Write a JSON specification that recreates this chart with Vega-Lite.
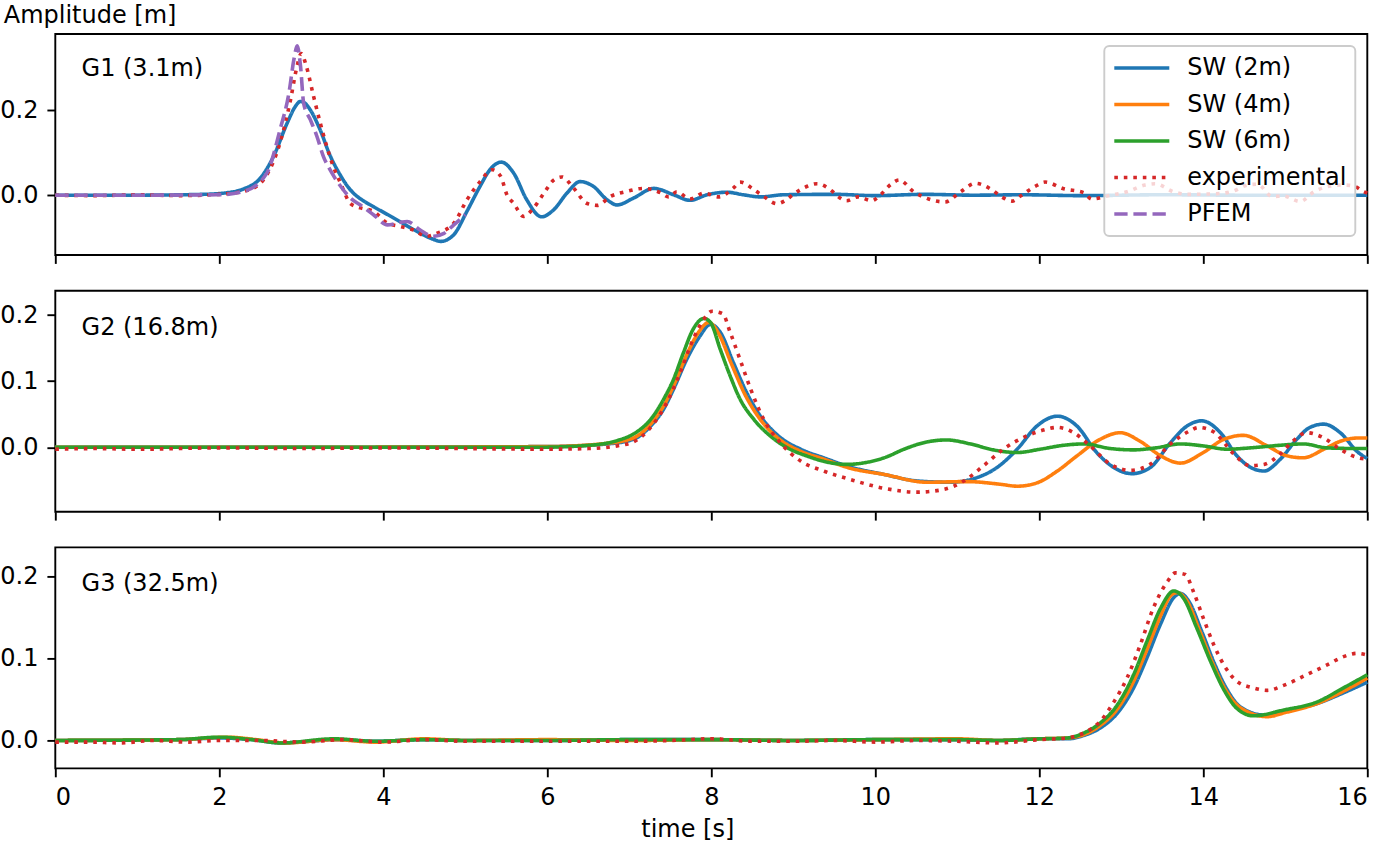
{
"$schema": "https://vega.github.io/schema/vega-lite/v6.json",
"padding": {"left": -1.7, "top": 2, "right": 5, "bottom": 0},
"background": "white",
"data": {"values": [
{"g":"G1","series":"SW (2m)","t":0,"v":0},{"g":"G1","series":"SW (2m)","t":1,"v":0},{"g":"G1","series":"SW (2m)","t":1.8,"v":0.002},{"g":"G1","series":"SW (2m)","t":2.1,"v":0.006},{"g":"G1","series":"SW (2m)","t":2.3,"v":0.015},{"g":"G1","series":"SW (2m)","t":2.5,"v":0.04},{"g":"G1","series":"SW (2m)","t":2.66,"v":0.091},{"g":"G1","series":"SW (2m)","t":2.83,"v":0.171},{"g":"G1","series":"SW (2m)","t":2.92,"v":0.207},{"g":"G1","series":"SW (2m)","t":2.99,"v":0.221},{"g":"G1","series":"SW (2m)","t":3.05,"v":0.216},{"g":"G1","series":"SW (2m)","t":3.11,"v":0.201},{"g":"G1","series":"SW (2m)","t":3.23,"v":0.154},{"g":"G1","series":"SW (2m)","t":3.35,"v":0.094},{"g":"G1","series":"SW (2m)","t":3.48,"v":0.046},{"g":"G1","series":"SW (2m)","t":3.56,"v":0.022},{"g":"G1","series":"SW (2m)","t":3.64,"v":0.004},{"g":"G1","series":"SW (2m)","t":3.74,"v":-0.011},{"g":"G1","series":"SW (2m)","t":3.88,"v":-0.027},{"g":"G1","series":"SW (2m)","t":4.12,"v":-0.053},{"g":"G1","series":"SW (2m)","t":4.37,"v":-0.081},{"g":"G1","series":"SW (2m)","t":4.61,"v":-0.104},{"g":"G1","series":"SW (2m)","t":4.7,"v":-0.109},{"g":"G1","series":"SW (2m)","t":4.86,"v":-0.093},{"g":"G1","series":"SW (2m)","t":5.02,"v":-0.038},{"g":"G1","series":"SW (2m)","t":5.18,"v":0.021},{"g":"G1","series":"SW (2m)","t":5.3,"v":0.06},{"g":"G1","series":"SW (2m)","t":5.44,"v":0.078},{"g":"G1","series":"SW (2m)","t":5.59,"v":0.052},{"g":"G1","series":"SW (2m)","t":5.75,"v":-0.011},{"g":"G1","series":"SW (2m)","t":5.93,"v":-0.051},{"g":"G1","series":"SW (2m)","t":6.08,"v":-0.034},{"g":"G1","series":"SW (2m)","t":6.24,"v":0.005},{"g":"G1","series":"SW (2m)","t":6.4,"v":0.032},{"g":"G1","series":"SW (2m)","t":6.56,"v":0.021},{"g":"G1","series":"SW (2m)","t":6.73,"v":-0.011},{"g":"G1","series":"SW (2m)","t":6.85,"v":-0.023},{"g":"G1","series":"SW (2m)","t":7.05,"v":-0.007},{"g":"G1","series":"SW (2m)","t":7.3,"v":0.016},{"g":"G1","series":"SW (2m)","t":7.54,"v":0.001},{"g":"G1","series":"SW (2m)","t":7.74,"v":-0.012},{"g":"G1","series":"SW (2m)","t":7.95,"v":0.001},{"g":"G1","series":"SW (2m)","t":8.19,"v":0.007},{"g":"G1","series":"SW (2m)","t":8.39,"v":0.001},{"g":"G1","series":"SW (2m)","t":8.6,"v":-0.004},{"g":"G1","series":"SW (2m)","t":8.88,"v":0.001},{"g":"G1","series":"SW (2m)","t":9.5,"v":0.002},{"g":"G1","series":"SW (2m)","t":10,"v":-0.001},{"g":"G1","series":"SW (2m)","t":10.6,"v":0.002},{"g":"G1","series":"SW (2m)","t":11.2,"v":0},{"g":"G1","series":"SW (2m)","t":11.8,"v":0.001},{"g":"G1","series":"SW (2m)","t":12.5,"v":-0.001},{"g":"G1","series":"SW (2m)","t":13.5,"v":0.001},{"g":"G1","series":"SW (2m)","t":14.5,"v":0},{"g":"G1","series":"SW (2m)","t":16,"v":0},
{"g":"G1","series":"experimental","t":0,"v":0},{"g":"G1","series":"experimental","t":0.5,"v":-0.001},{"g":"G1","series":"experimental","t":1,"v":0.001},{"g":"G1","series":"experimental","t":1.5,"v":-0.001},{"g":"G1","series":"experimental","t":2,"v":0.002},{"g":"G1","series":"experimental","t":2.17,"v":0.005},{"g":"G1","series":"experimental","t":2.42,"v":0.017},{"g":"G1","series":"experimental","t":2.58,"v":0.048},{"g":"G1","series":"experimental","t":2.74,"v":0.123},{"g":"G1","series":"experimental","t":2.87,"v":0.226},{"g":"G1","series":"experimental","t":2.94,"v":0.297},{"g":"G1","series":"experimental","t":3,"v":0.334},{"g":"G1","series":"experimental","t":3.06,"v":0.305},{"g":"G1","series":"experimental","t":3.15,"v":0.233},{"g":"G1","series":"experimental","t":3.23,"v":0.171},{"g":"G1","series":"experimental","t":3.31,"v":0.115},{"g":"G1","series":"experimental","t":3.39,"v":0.068},{"g":"G1","series":"experimental","t":3.48,"v":0.028},{"g":"G1","series":"experimental","t":3.6,"v":-0.02},{"g":"G1","series":"experimental","t":3.72,"v":-0.03},{"g":"G1","series":"experimental","t":3.88,"v":-0.038},{"g":"G1","series":"experimental","t":4.05,"v":-0.066},{"g":"G1","series":"experimental","t":4.21,"v":-0.074},{"g":"G1","series":"experimental","t":4.37,"v":-0.082},{"g":"G1","series":"experimental","t":4.53,"v":-0.097},{"g":"G1","series":"experimental","t":4.65,"v":-0.09},{"g":"G1","series":"experimental","t":4.86,"v":-0.066},{"g":"G1","series":"experimental","t":5.02,"v":-0.011},{"g":"G1","series":"experimental","t":5.18,"v":0.032},{"g":"G1","series":"experimental","t":5.33,"v":0.06},{"g":"G1","series":"experimental","t":5.43,"v":0.045},{"g":"G1","series":"experimental","t":5.51,"v":0},{"g":"G1","series":"experimental","t":5.59,"v":-0.019},{"g":"G1","series":"experimental","t":5.71,"v":-0.05},{"g":"G1","series":"experimental","t":5.83,"v":-0.031},{"g":"G1","series":"experimental","t":5.96,"v":0.005},{"g":"G1","series":"experimental","t":6.08,"v":0.036},{"g":"G1","series":"experimental","t":6.18,"v":0.043},{"g":"G1","series":"experimental","t":6.32,"v":0.017},{"g":"G1","series":"experimental","t":6.48,"v":-0.019},{"g":"G1","series":"experimental","t":6.61,"v":-0.024},{"g":"G1","series":"experimental","t":6.77,"v":-0.003},{"g":"G1","series":"experimental","t":6.97,"v":0.009},{"g":"G1","series":"experimental","t":7.17,"v":0.016},{"g":"G1","series":"experimental","t":7.38,"v":0.006},{"g":"G1","series":"experimental","t":7.48,"v":-0.004},{"g":"G1","series":"experimental","t":7.58,"v":0.008},{"g":"G1","series":"experimental","t":7.74,"v":-0.009},{"g":"G1","series":"experimental","t":7.91,"v":0.005},{"g":"G1","series":"experimental","t":8.09,"v":-0.004},{"g":"G1","series":"experimental","t":8.27,"v":0.017},{"g":"G1","series":"experimental","t":8.35,"v":0.031},{"g":"G1","series":"experimental","t":8.54,"v":0.01},{"g":"G1","series":"experimental","t":8.64,"v":-0.003},{"g":"G1","series":"experimental","t":8.8,"v":-0.02},{"g":"G1","series":"experimental","t":8.9,"v":-0.013},{"g":"G1","series":"experimental","t":9,"v":0.002},{"g":"G1","series":"experimental","t":9.17,"v":0.021},{"g":"G1","series":"experimental","t":9.29,"v":0.027},{"g":"G1","series":"experimental","t":9.47,"v":0.01},{"g":"G1","series":"experimental","t":9.55,"v":-0.004},{"g":"G1","series":"experimental","t":9.65,"v":-0.013},{"g":"G1","series":"experimental","t":9.79,"v":-0.004},{"g":"G1","series":"experimental","t":9.96,"v":-0.013},{"g":"G1","series":"experimental","t":10.04,"v":-0.003},{"g":"G1","series":"experimental","t":10.2,"v":0.027},{"g":"G1","series":"experimental","t":10.29,"v":0.036},{"g":"G1","series":"experimental","t":10.47,"v":0.008},{"g":"G1","series":"experimental","t":10.65,"v":-0.009},{"g":"G1","series":"experimental","t":10.85,"v":-0.016},{"g":"G1","series":"experimental","t":11.04,"v":0.008},{"g":"G1","series":"experimental","t":11.22,"v":0.028},{"g":"G1","series":"experimental","t":11.42,"v":0.013},{"g":"G1","series":"experimental","t":11.55,"v":-0.005},{"g":"G1","series":"experimental","t":11.67,"v":-0.014},{"g":"G1","series":"experimental","t":11.77,"v":-0.002},{"g":"G1","series":"experimental","t":11.95,"v":0.021},{"g":"G1","series":"experimental","t":12.07,"v":0.031},{"g":"G1","series":"experimental","t":12.3,"v":0.015},{"g":"G1","series":"experimental","t":12.54,"v":0.006},{"g":"G1","series":"experimental","t":12.64,"v":-0.009},{"g":"G1","series":"experimental","t":12.87,"v":0},{"g":"G1","series":"experimental","t":13.07,"v":0.008},{"g":"G1","series":"experimental","t":13.29,"v":0.024},{"g":"G1","series":"experimental","t":13.41,"v":0.027},{"g":"G1","series":"experimental","t":13.64,"v":0.008},{"g":"G1","series":"experimental","t":13.8,"v":0.002},{"g":"G1","series":"experimental","t":14.09,"v":0.003},{"g":"G1","series":"experimental","t":14.21,"v":0.004},{"g":"G1","series":"experimental","t":14.37,"v":0.01},{"g":"G1","series":"experimental","t":14.54,"v":0.024},{"g":"G1","series":"experimental","t":14.66,"v":0.026},{"g":"G1","series":"experimental","t":14.84,"v":-0.003},{"g":"G1","series":"experimental","t":14.98,"v":-0.002},{"g":"G1","series":"experimental","t":15.18,"v":-0.015},{"g":"G1","series":"experimental","t":15.35,"v":0.008},{"g":"G1","series":"experimental","t":15.51,"v":0.02},{"g":"G1","series":"experimental","t":15.71,"v":0.024},{"g":"G1","series":"experimental","t":15.83,"v":0.022},{"g":"G1","series":"experimental","t":15.96,"v":0.008},{"g":"G1","series":"experimental","t":16,"v":0.005},
{"g":"G1","series":"PFEM","t":0,"v":0},{"g":"G1","series":"PFEM","t":1,"v":0},{"g":"G1","series":"PFEM","t":2,"v":0.001},{"g":"G1","series":"PFEM","t":2.3,"v":0.009},{"g":"G1","series":"PFEM","t":2.58,"v":0.052},{"g":"G1","series":"PFEM","t":2.74,"v":0.154},{"g":"G1","series":"PFEM","t":2.85,"v":0.242},{"g":"G1","series":"PFEM","t":2.91,"v":0.32},{"g":"G1","series":"PFEM","t":2.95,"v":0.352},{"g":"G1","series":"PFEM","t":2.99,"v":0.305},{"g":"G1","series":"PFEM","t":3.03,"v":0.215},{"g":"G1","series":"PFEM","t":3.11,"v":0.178},{"g":"G1","series":"PFEM","t":3.19,"v":0.139},{"g":"G1","series":"PFEM","t":3.27,"v":0.091},{"g":"G1","series":"PFEM","t":3.35,"v":0.06},{"g":"G1","series":"PFEM","t":3.48,"v":0.021},{"g":"G1","series":"PFEM","t":3.6,"v":-0.007},{"g":"G1","series":"PFEM","t":3.72,"v":-0.023},{"g":"G1","series":"PFEM","t":3.88,"v":-0.046},{"g":"G1","series":"PFEM","t":4.05,"v":-0.07},{"g":"G1","series":"PFEM","t":4.21,"v":-0.064},{"g":"G1","series":"PFEM","t":4.29,"v":-0.062},{"g":"G1","series":"PFEM","t":4.45,"v":-0.082},{"g":"G1","series":"PFEM","t":4.61,"v":-0.097},{"g":"G1","series":"PFEM","t":4.74,"v":-0.09},{"g":"G1","series":"PFEM","t":4.86,"v":-0.07},{"g":"G1","series":"PFEM","t":5,"v":-0.046},
{"g":"G2","series":"SW (2m)","t":0,"v":0},{"g":"G2","series":"SW (2m)","t":3,"v":0},{"g":"G2","series":"SW (2m)","t":6,"v":0.001},{"g":"G2","series":"SW (2m)","t":6.73,"v":0.005},{"g":"G2","series":"SW (2m)","t":7.05,"v":0.012},{"g":"G2","series":"SW (2m)","t":7.26,"v":0.032},{"g":"G2","series":"SW (2m)","t":7.42,"v":0.058},{"g":"G2","series":"SW (2m)","t":7.54,"v":0.088},{"g":"G2","series":"SW (2m)","t":7.7,"v":0.133},{"g":"G2","series":"SW (2m)","t":7.85,"v":0.166},{"g":"G2","series":"SW (2m)","t":7.99,"v":0.186},{"g":"G2","series":"SW (2m)","t":8.11,"v":0.174},{"g":"G2","series":"SW (2m)","t":8.27,"v":0.128},{"g":"G2","series":"SW (2m)","t":8.43,"v":0.083},{"g":"G2","series":"SW (2m)","t":8.6,"v":0.047},{"g":"G2","series":"SW (2m)","t":8.84,"v":0.015},{"g":"G2","series":"SW (2m)","t":9.09,"v":-0.003},{"g":"G2","series":"SW (2m)","t":9.37,"v":-0.016},{"g":"G2","series":"SW (2m)","t":9.7,"v":-0.03},{"g":"G2","series":"SW (2m)","t":10.1,"v":-0.041},{"g":"G2","series":"SW (2m)","t":10.51,"v":-0.051},{"g":"G2","series":"SW (2m)","t":10.91,"v":-0.053},{"g":"G2","series":"SW (2m)","t":11.24,"v":-0.046},{"g":"G2","series":"SW (2m)","t":11.48,"v":-0.031},{"g":"G2","series":"SW (2m)","t":11.73,"v":-0.003},{"g":"G2","series":"SW (2m)","t":11.97,"v":0.032},{"g":"G2","series":"SW (2m)","t":12.22,"v":0.047},{"g":"G2","series":"SW (2m)","t":12.46,"v":0.032},{"g":"G2","series":"SW (2m)","t":12.7,"v":-0.008},{"g":"G2","series":"SW (2m)","t":12.94,"v":-0.033},{"g":"G2","series":"SW (2m)","t":13.13,"v":-0.04},{"g":"G2","series":"SW (2m)","t":13.35,"v":-0.031},{"g":"G2","series":"SW (2m)","t":13.6,"v":0.007},{"g":"G2","series":"SW (2m)","t":13.8,"v":0.032},{"g":"G2","series":"SW (2m)","t":13.98,"v":0.04},{"g":"G2","series":"SW (2m)","t":14.21,"v":0.022},{"g":"G2","series":"SW (2m)","t":14.41,"v":-0.013},{"g":"G2","series":"SW (2m)","t":14.57,"v":-0.03},{"g":"G2","series":"SW (2m)","t":14.74,"v":-0.036},{"g":"G2","series":"SW (2m)","t":14.94,"v":-0.018},{"g":"G2","series":"SW (2m)","t":15.14,"v":0.012},{"g":"G2","series":"SW (2m)","t":15.3,"v":0.03},{"g":"G2","series":"SW (2m)","t":15.47,"v":0.035},{"g":"G2","series":"SW (2m)","t":15.67,"v":0.022},{"g":"G2","series":"SW (2m)","t":15.89,"v":-0.008},{"g":"G2","series":"SW (2m)","t":16,"v":-0.017},
{"g":"G2","series":"SW (4m)","t":0,"v":0},{"g":"G2","series":"SW (4m)","t":3,"v":0},{"g":"G2","series":"SW (4m)","t":6,"v":0.001},{"g":"G2","series":"SW (4m)","t":6.73,"v":0.006},{"g":"G2","series":"SW (4m)","t":7.05,"v":0.014},{"g":"G2","series":"SW (4m)","t":7.26,"v":0.035},{"g":"G2","series":"SW (4m)","t":7.42,"v":0.063},{"g":"G2","series":"SW (4m)","t":7.54,"v":0.093},{"g":"G2","series":"SW (4m)","t":7.7,"v":0.14},{"g":"G2","series":"SW (4m)","t":7.85,"v":0.175},{"g":"G2","series":"SW (4m)","t":7.97,"v":0.189},{"g":"G2","series":"SW (4m)","t":8.09,"v":0.172},{"g":"G2","series":"SW (4m)","t":8.25,"v":0.125},{"g":"G2","series":"SW (4m)","t":8.41,"v":0.08},{"g":"G2","series":"SW (4m)","t":8.58,"v":0.045},{"g":"G2","series":"SW (4m)","t":8.82,"v":0.013},{"g":"G2","series":"SW (4m)","t":9.07,"v":-0.005},{"g":"G2","series":"SW (4m)","t":9.37,"v":-0.018},{"g":"G2","series":"SW (4m)","t":9.7,"v":-0.032},{"g":"G2","series":"SW (4m)","t":10.1,"v":-0.041},{"g":"G2","series":"SW (4m)","t":10.63,"v":-0.053},{"g":"G2","series":"SW (4m)","t":11.12,"v":-0.052},{"g":"G2","series":"SW (4m)","t":11.52,"v":-0.056},{"g":"G2","series":"SW (4m)","t":11.73,"v":-0.059},{"g":"G2","series":"SW (4m)","t":11.97,"v":-0.054},{"g":"G2","series":"SW (4m)","t":12.22,"v":-0.036},{"g":"G2","series":"SW (4m)","t":12.46,"v":-0.013},{"g":"G2","series":"SW (4m)","t":12.7,"v":0.009},{"g":"G2","series":"SW (4m)","t":12.99,"v":0.022},{"g":"G2","series":"SW (4m)","t":13.23,"v":0.009},{"g":"G2","series":"SW (4m)","t":13.48,"v":-0.013},{"g":"G2","series":"SW (4m)","t":13.72,"v":-0.024},{"g":"G2","series":"SW (4m)","t":14,"v":-0.008},{"g":"G2","series":"SW (4m)","t":14.25,"v":0.012},{"g":"G2","series":"SW (4m)","t":14.49,"v":0.018},{"g":"G2","series":"SW (4m)","t":14.78,"v":0.002},{"g":"G2","series":"SW (4m)","t":15.02,"v":-0.013},{"g":"G2","series":"SW (4m)","t":15.22,"v":-0.016},{"g":"G2","series":"SW (4m)","t":15.47,"v":-0.003},{"g":"G2","series":"SW (4m)","t":15.67,"v":0.009},{"g":"G2","series":"SW (4m)","t":15.89,"v":0.014},{"g":"G2","series":"SW (4m)","t":16,"v":0.014},
{"g":"G2","series":"SW (6m)","t":0,"v":0},{"g":"G2","series":"SW (6m)","t":3,"v":0},{"g":"G2","series":"SW (6m)","t":5.9,"v":0},{"g":"G2","series":"SW (6m)","t":6.52,"v":0.003},{"g":"G2","series":"SW (6m)","t":6.85,"v":0.01},{"g":"G2","series":"SW (6m)","t":7.05,"v":0.02},{"g":"G2","series":"SW (6m)","t":7.26,"v":0.042},{"g":"G2","series":"SW (6m)","t":7.42,"v":0.073},{"g":"G2","series":"SW (6m)","t":7.54,"v":0.103},{"g":"G2","series":"SW (6m)","t":7.66,"v":0.143},{"g":"G2","series":"SW (6m)","t":7.78,"v":0.179},{"g":"G2","series":"SW (6m)","t":7.91,"v":0.195},{"g":"G2","series":"SW (6m)","t":7.99,"v":0.189},{"g":"G2","series":"SW (6m)","t":8.11,"v":0.148},{"g":"G2","series":"SW (6m)","t":8.23,"v":0.108},{"g":"G2","series":"SW (6m)","t":8.35,"v":0.073},{"g":"G2","series":"SW (6m)","t":8.52,"v":0.042},{"g":"G2","series":"SW (6m)","t":8.72,"v":0.017},{"g":"G2","series":"SW (6m)","t":8.96,"v":-0.003},{"g":"G2","series":"SW (6m)","t":9.16,"v":-0.013},{"g":"G2","series":"SW (6m)","t":9.36,"v":-0.021},{"g":"G2","series":"SW (6m)","t":9.65,"v":-0.026},{"g":"G2","series":"SW (6m)","t":9.89,"v":-0.023},{"g":"G2","series":"SW (6m)","t":10.13,"v":-0.015},{"g":"G2","series":"SW (6m)","t":10.35,"v":-0.003},{"g":"G2","series":"SW (6m)","t":10.63,"v":0.008},{"g":"G2","series":"SW (6m)","t":10.87,"v":0.011},{"g":"G2","series":"SW (6m)","t":11.16,"v":0.005},{"g":"G2","series":"SW (6m)","t":11.44,"v":-0.004},{"g":"G2","series":"SW (6m)","t":11.73,"v":-0.008},{"g":"G2","series":"SW (6m)","t":12.01,"v":-0.003},{"g":"G2","series":"SW (6m)","t":12.3,"v":0.003},{"g":"G2","series":"SW (6m)","t":12.54,"v":0.005},{"g":"G2","series":"SW (6m)","t":12.87,"v":-0.002},{"g":"G2","series":"SW (6m)","t":13.15,"v":-0.004},{"g":"G2","series":"SW (6m)","t":13.42,"v":-0.001},{"g":"G2","series":"SW (6m)","t":13.72,"v":0.005},{"g":"G2","series":"SW (6m)","t":14,"v":0.002},{"g":"G2","series":"SW (6m)","t":14.29,"v":-0.003},{"g":"G2","series":"SW (6m)","t":14.57,"v":-0.001},{"g":"G2","series":"SW (6m)","t":14.94,"v":0.003},{"g":"G2","series":"SW (6m)","t":15.22,"v":0.005},{"g":"G2","series":"SW (6m)","t":15.51,"v":-0.001},{"g":"G2","series":"SW (6m)","t":15.89,"v":-0.002},{"g":"G2","series":"SW (6m)","t":16,"v":-0.002},
{"g":"G2","series":"experimental","t":0,"v":-0.003},{"g":"G2","series":"experimental","t":0.5,"v":-0.002},{"g":"G2","series":"experimental","t":1,"v":-0.003},{"g":"G2","series":"experimental","t":2,"v":-0.001},{"g":"G2","series":"experimental","t":3,"v":-0.002},{"g":"G2","series":"experimental","t":4,"v":-0.001},{"g":"G2","series":"experimental","t":5,"v":-0.002},{"g":"G2","series":"experimental","t":6,"v":-0.003},{"g":"G2","series":"experimental","t":6.5,"v":-0.002},{"g":"G2","series":"experimental","t":6.85,"v":0.002},{"g":"G2","series":"experimental","t":7.05,"v":0.008},{"g":"G2","series":"experimental","t":7.26,"v":0.03},{"g":"G2","series":"experimental","t":7.46,"v":0.068},{"g":"G2","series":"experimental","t":7.62,"v":0.113},{"g":"G2","series":"experimental","t":7.78,"v":0.164},{"g":"G2","series":"experimental","t":7.91,"v":0.194},{"g":"G2","series":"experimental","t":8.01,"v":0.206},{"g":"G2","series":"experimental","t":8.14,"v":0.202},{"g":"G2","series":"experimental","t":8.23,"v":0.174},{"g":"G2","series":"experimental","t":8.35,"v":0.133},{"g":"G2","series":"experimental","t":8.48,"v":0.088},{"g":"G2","series":"experimental","t":8.64,"v":0.042},{"g":"G2","series":"experimental","t":8.84,"v":0.007},{"g":"G2","series":"experimental","t":9.09,"v":-0.021},{"g":"G2","series":"experimental","t":9.37,"v":-0.036},{"g":"G2","series":"experimental","t":9.7,"v":-0.049},{"g":"G2","series":"experimental","t":10.1,"v":-0.062},{"g":"G2","series":"experimental","t":10.51,"v":-0.068},{"g":"G2","series":"experimental","t":10.83,"v":-0.064},{"g":"G2","series":"experimental","t":11.08,"v":-0.051},{"g":"G2","series":"experimental","t":11.32,"v":-0.028},{"g":"G2","series":"experimental","t":11.56,"v":-0.003},{"g":"G2","series":"experimental","t":11.81,"v":0.015},{"g":"G2","series":"experimental","t":12.05,"v":0.026},{"g":"G2","series":"experimental","t":12.22,"v":0.03},{"g":"G2","series":"experimental","t":12.42,"v":0.022},{"g":"G2","series":"experimental","t":12.62,"v":0.002},{"g":"G2","series":"experimental","t":12.87,"v":-0.026},{"g":"G2","series":"experimental","t":13.11,"v":-0.035},{"g":"G2","series":"experimental","t":13.35,"v":-0.026},{"g":"G2","series":"experimental","t":13.6,"v":0.005},{"g":"G2","series":"experimental","t":13.84,"v":0.025},{"g":"G2","series":"experimental","t":13.94,"v":0.03},{"g":"G2","series":"experimental","t":14.13,"v":0.023},{"g":"G2","series":"experimental","t":14.37,"v":-0.01},{"g":"G2","series":"experimental","t":14.57,"v":-0.028},{"g":"G2","series":"experimental","t":14.74,"v":-0.026},{"g":"G2","series":"experimental","t":14.94,"v":-0.01},{"g":"G2","series":"experimental","t":15.1,"v":0.01},{"g":"G2","series":"experimental","t":15.26,"v":0.022},{"g":"G2","series":"experimental","t":15.47,"v":0.014},{"g":"G2","series":"experimental","t":15.67,"v":-0.003},{"g":"G2","series":"experimental","t":15.89,"v":-0.016},{"g":"G2","series":"experimental","t":16,"v":-0.018},
{"g":"G3","series":"SW (2m)","t":0,"v":0},{"g":"G3","series":"SW (2m)","t":1.5,"v":0.001},{"g":"G3","series":"SW (2m)","t":2,"v":0.003},{"g":"G3","series":"SW (2m)","t":2.4,"v":0.001},{"g":"G3","series":"SW (2m)","t":2.75,"v":-0.003},{"g":"G3","series":"SW (2m)","t":3.1,"v":-0.001},{"g":"G3","series":"SW (2m)","t":3.4,"v":0.001},{"g":"G3","series":"SW (2m)","t":3.9,"v":-0.001},{"g":"G3","series":"SW (2m)","t":4.5,"v":0.001},{"g":"G3","series":"SW (2m)","t":5,"v":0},{"g":"G3","series":"SW (2m)","t":6,"v":0},{"g":"G3","series":"SW (2m)","t":7,"v":0.001},{"g":"G3","series":"SW (2m)","t":8,"v":0.001},{"g":"G3","series":"SW (2m)","t":9,"v":0},{"g":"G3","series":"SW (2m)","t":10,"v":0.001},{"g":"G3","series":"SW (2m)","t":11,"v":0.001},{"g":"G3","series":"SW (2m)","t":11.5,"v":0},{"g":"G3","series":"SW (2m)","t":12,"v":0.002},{"g":"G3","series":"SW (2m)","t":12.34,"v":0.002},{"g":"G3","series":"SW (2m)","t":12.54,"v":0.006},{"g":"G3","series":"SW (2m)","t":12.74,"v":0.015},{"g":"G3","series":"SW (2m)","t":12.95,"v":0.033},{"g":"G3","series":"SW (2m)","t":13.15,"v":0.064},{"g":"G3","series":"SW (2m)","t":13.31,"v":0.1},{"g":"G3","series":"SW (2m)","t":13.48,"v":0.142},{"g":"G3","series":"SW (2m)","t":13.64,"v":0.174},{"g":"G3","series":"SW (2m)","t":13.72,"v":0.179},{"g":"G3","series":"SW (2m)","t":13.82,"v":0.17},{"g":"G3","series":"SW (2m)","t":13.98,"v":0.133},{"g":"G3","series":"SW (2m)","t":14.13,"v":0.095},{"g":"G3","series":"SW (2m)","t":14.29,"v":0.062},{"g":"G3","series":"SW (2m)","t":14.45,"v":0.041},{"g":"G3","series":"SW (2m)","t":14.74,"v":0.031},{"g":"G3","series":"SW (2m)","t":15,"v":0.036},{"g":"G3","series":"SW (2m)","t":15.39,"v":0.045},{"g":"G3","series":"SW (2m)","t":15.71,"v":0.058},{"g":"G3","series":"SW (2m)","t":16,"v":0.071},
{"g":"G3","series":"SW (4m)","t":0,"v":0},{"g":"G3","series":"SW (4m)","t":1.5,"v":0.001},{"g":"G3","series":"SW (4m)","t":2.1,"v":0.004},{"g":"G3","series":"SW (4m)","t":2.45,"v":0.001},{"g":"G3","series":"SW (4m)","t":2.8,"v":-0.003},{"g":"G3","series":"SW (4m)","t":3.4,"v":0.001},{"g":"G3","series":"SW (4m)","t":3.9,"v":-0.002},{"g":"G3","series":"SW (4m)","t":4.5,"v":0.002},{"g":"G3","series":"SW (4m)","t":5,"v":0},{"g":"G3","series":"SW (4m)","t":6,"v":0.001},{"g":"G3","series":"SW (4m)","t":7,"v":0},{"g":"G3","series":"SW (4m)","t":8,"v":0.001},{"g":"G3","series":"SW (4m)","t":9,"v":0},{"g":"G3","series":"SW (4m)","t":10,"v":0.001},{"g":"G3","series":"SW (4m)","t":11,"v":0.002},{"g":"G3","series":"SW (4m)","t":11.5,"v":0},{"g":"G3","series":"SW (4m)","t":12,"v":0.002},{"g":"G3","series":"SW (4m)","t":12.34,"v":0.003},{"g":"G3","series":"SW (4m)","t":12.54,"v":0.007},{"g":"G3","series":"SW (4m)","t":12.74,"v":0.018},{"g":"G3","series":"SW (4m)","t":12.95,"v":0.038},{"g":"G3","series":"SW (4m)","t":13.15,"v":0.072},{"g":"G3","series":"SW (4m)","t":13.31,"v":0.11},{"g":"G3","series":"SW (4m)","t":13.48,"v":0.152},{"g":"G3","series":"SW (4m)","t":13.6,"v":0.176},{"g":"G3","series":"SW (4m)","t":13.68,"v":0.18},{"g":"G3","series":"SW (4m)","t":13.8,"v":0.17},{"g":"G3","series":"SW (4m)","t":13.95,"v":0.135},{"g":"G3","series":"SW (4m)","t":14.11,"v":0.095},{"g":"G3","series":"SW (4m)","t":14.27,"v":0.062},{"g":"G3","series":"SW (4m)","t":14.45,"v":0.04},{"g":"G3","series":"SW (4m)","t":14.78,"v":0.029},{"g":"G3","series":"SW (4m)","t":15,"v":0.034},{"g":"G3","series":"SW (4m)","t":15.39,"v":0.045},{"g":"G3","series":"SW (4m)","t":15.71,"v":0.06},{"g":"G3","series":"SW (4m)","t":16,"v":0.076},
{"g":"G3","series":"SW (6m)","t":0,"v":0},{"g":"G3","series":"SW (6m)","t":1.5,"v":0.001},{"g":"G3","series":"SW (6m)","t":2,"v":0.004},{"g":"G3","series":"SW (6m)","t":2.4,"v":0.001},{"g":"G3","series":"SW (6m)","t":2.75,"v":-0.003},{"g":"G3","series":"SW (6m)","t":3.4,"v":0.002},{"g":"G3","series":"SW (6m)","t":3.9,"v":-0.001},{"g":"G3","series":"SW (6m)","t":4.5,"v":0.001},{"g":"G3","series":"SW (6m)","t":5,"v":0},{"g":"G3","series":"SW (6m)","t":6,"v":0},{"g":"G3","series":"SW (6m)","t":7,"v":0.001},{"g":"G3","series":"SW (6m)","t":8,"v":0.001},{"g":"G3","series":"SW (6m)","t":9,"v":0},{"g":"G3","series":"SW (6m)","t":10,"v":0.001},{"g":"G3","series":"SW (6m)","t":11,"v":0.001},{"g":"G3","series":"SW (6m)","t":11.5,"v":0},{"g":"G3","series":"SW (6m)","t":12,"v":0.002},{"g":"G3","series":"SW (6m)","t":12.34,"v":0.003},{"g":"G3","series":"SW (6m)","t":12.54,"v":0.009},{"g":"G3","series":"SW (6m)","t":12.74,"v":0.021},{"g":"G3","series":"SW (6m)","t":12.95,"v":0.043},{"g":"G3","series":"SW (6m)","t":13.15,"v":0.08},{"g":"G3","series":"SW (6m)","t":13.31,"v":0.12},{"g":"G3","series":"SW (6m)","t":13.48,"v":0.161},{"g":"G3","series":"SW (6m)","t":13.64,"v":0.182},{"g":"G3","series":"SW (6m)","t":13.76,"v":0.173},{"g":"G3","series":"SW (6m)","t":13.92,"v":0.137},{"g":"G3","series":"SW (6m)","t":14.09,"v":0.096},{"g":"G3","series":"SW (6m)","t":14.25,"v":0.062},{"g":"G3","series":"SW (6m)","t":14.41,"v":0.039},{"g":"G3","series":"SW (6m)","t":14.61,"v":0.03},{"g":"G3","series":"SW (6m)","t":14.98,"v":0.037},{"g":"G3","series":"SW (6m)","t":15.39,"v":0.047},{"g":"G3","series":"SW (6m)","t":15.71,"v":0.064},{"g":"G3","series":"SW (6m)","t":16,"v":0.08},
{"g":"G3","series":"experimental","t":0,"v":-0.002},{"g":"G3","series":"experimental","t":0.4,"v":-0.002},{"g":"G3","series":"experimental","t":0.8,"v":-0.003},{"g":"G3","series":"experimental","t":1.2,"v":0},{"g":"G3","series":"experimental","t":1.6,"v":-0.002},{"g":"G3","series":"experimental","t":2,"v":0},{"g":"G3","series":"experimental","t":2.5,"v":0},{"g":"G3","series":"experimental","t":3,"v":-0.002},{"g":"G3","series":"experimental","t":3.5,"v":0.001},{"g":"G3","series":"experimental","t":4,"v":-0.002},{"g":"G3","series":"experimental","t":4.5,"v":0.001},{"g":"G3","series":"experimental","t":5,"v":-0.001},{"g":"G3","series":"experimental","t":6,"v":-0.001},{"g":"G3","series":"experimental","t":7,"v":-0.001},{"g":"G3","series":"experimental","t":7.5,"v":0},{"g":"G3","series":"experimental","t":8,"v":0.002},{"g":"G3","series":"experimental","t":8.5,"v":-0.001},{"g":"G3","series":"experimental","t":9,"v":-0.001},{"g":"G3","series":"experimental","t":9.5,"v":0},{"g":"G3","series":"experimental","t":10,"v":-0.002},{"g":"G3","series":"experimental","t":10.5,"v":0},{"g":"G3","series":"experimental","t":11,"v":-0.001},{"g":"G3","series":"experimental","t":11.5,"v":-0.003},{"g":"G3","series":"experimental","t":12,"v":0.001},{"g":"G3","series":"experimental","t":12.34,"v":0.003},{"g":"G3","series":"experimental","t":12.46,"v":0.006},{"g":"G3","series":"experimental","t":12.58,"v":0.011},{"g":"G3","series":"experimental","t":12.74,"v":0.023},{"g":"G3","series":"experimental","t":12.91,"v":0.047},{"g":"G3","series":"experimental","t":13.07,"v":0.076},{"g":"G3","series":"experimental","t":13.23,"v":0.116},{"g":"G3","series":"experimental","t":13.39,"v":0.161},{"g":"G3","series":"experimental","t":13.56,"v":0.193},{"g":"G3","series":"experimental","t":13.66,"v":0.204},{"g":"G3","series":"experimental","t":13.78,"v":0.202},{"g":"G3","series":"experimental","t":13.88,"v":0.181},{"g":"G3","series":"experimental","t":14,"v":0.149},{"g":"G3","series":"experimental","t":14.13,"v":0.116},{"g":"G3","series":"experimental","t":14.25,"v":0.092},{"g":"G3","series":"experimental","t":14.41,"v":0.072},{"g":"G3","series":"experimental","t":14.61,"v":0.064},{"g":"G3","series":"experimental","t":14.78,"v":0.061},{"g":"G3","series":"experimental","t":14.98,"v":0.067},{"g":"G3","series":"experimental","t":15.26,"v":0.08},{"g":"G3","series":"experimental","t":15.51,"v":0.092},{"g":"G3","series":"experimental","t":15.71,"v":0.102},{"g":"G3","series":"experimental","t":15.87,"v":0.106},{"g":"G3","series":"experimental","t":16,"v":0.104}
]},
"spacing": 23.7,
"resolve": {"scale": {"color": "independent", "strokeDash": "independent", "y": "independent"}, "legend": {"color": "independent", "strokeDash": "independent"}},
"vconcat": [
{
 "width": 1312, "height": 221,
 "layer": [
  {
   "transform": [{"filter": "datum.g === 'G1'"}],
   "encoding": {
    "x": {"field": "t", "type": "quantitative", "scale": {"domain": [0, 16], "nice": false}, "axis": {"values": [0,2,4,6,8,10,12,14,16], "labels": false, "title": null}},
    "y": {"field": "v", "type": "quantitative", "scale": {"domain": [-0.141, 0.38], "nice": false, "zero": false}, "axis": {"values": [0, 0.2], "format": ".1f", "title": "Amplitude [m]", "titleAngle": 0, "titleAlign": "left", "titleBaseline": "alphabetic", "titleX": -52, "titleY": -11.7}},
    "color": {"field": "series", "type": "nominal", "scale": {"domain": ["SW (2m)", "SW (4m)", "SW (6m)", "experimental", "PFEM"], "range": ["#1f77b4", "#ff7f0e", "#2ca02c", "#d62728", "#9467bd"]}, "legend": {"orient": "top-right", "title": null}},
    "strokeDash": {"field": "series", "type": "nominal", "scale": {"domain": ["SW (2m)", "SW (4m)", "SW (6m)", "experimental", "PFEM"], "range": [[1, 0], [1, 0], [1, 0], [3.6, 5.9], [13.3, 5.8]]}, "legend": {"orient": "top-right", "title": null}}
   },
   "layer": [
    {"transform": [{"filter": "datum.series === 'SW (2m)'"}], "mark": {"type": "line"}},
    {"transform": [{"filter": "datum.series === 'experimental'"}], "mark": {"type": "line"}},
    {"transform": [{"filter": "datum.series === 'PFEM'"}], "mark": {"type": "line"}}
   ]
  },
  {
   "data": {"values": [{"label": "G1 (3.1m)"}]},
   "mark": {"type": "text", "align": "left", "baseline": "alphabetic", "fontSize": 24, "color": "black"},
   "encoding": {"x": {"datum": 0.32, "type": "quantitative"}, "y": {"datum": 0.28, "type": "quantitative"}, "text": {"field": "label"}}
  }
 ]
},
{
 "width": 1312, "height": 221,
 "layer": [
  {
   "transform": [{"filter": "datum.g === 'G2'"}],
   "encoding": {
    "x": {"field": "t", "type": "quantitative", "scale": {"domain": [0, 16], "nice": false}, "axis": {"values": [0,2,4,6,8,10,12,14,16], "labels": false, "title": null}},
    "y": {"field": "v", "type": "quantitative", "scale": {"domain": [-0.0976, 0.237], "nice": false, "zero": false}, "axis": {"values": [0, 0.1, 0.2], "format": ".1f", "title": null}},
    "color": {"field": "series", "type": "nominal", "scale": {"domain": ["SW (2m)", "SW (4m)", "SW (6m)", "experimental", "PFEM"], "range": ["#1f77b4", "#ff7f0e", "#2ca02c", "#d62728", "#9467bd"]}, "legend": null},
    "strokeDash": {"field": "series", "type": "nominal", "scale": {"domain": ["SW (2m)", "SW (4m)", "SW (6m)", "experimental", "PFEM"], "range": [[1, 0], [1, 0], [1, 0], [3.6, 5.9], [13.3, 5.8]]}, "legend": null}
   },
   "layer": [
    {"transform": [{"filter": "datum.series === 'SW (2m)'"}], "mark": {"type": "line"}},
    {"transform": [{"filter": "datum.series === 'SW (4m)'"}], "mark": {"type": "line"}},
    {"transform": [{"filter": "datum.series === 'SW (6m)'"}], "mark": {"type": "line"}},
    {"transform": [{"filter": "datum.series === 'experimental'"}], "mark": {"type": "line"}}
   ]
  },
  {
   "data": {"values": [{"label": "G2 (16.8m)"}]},
   "mark": {"type": "text", "align": "left", "baseline": "alphabetic", "fontSize": 24, "color": "black"},
   "encoding": {"x": {"datum": 0.32, "type": "quantitative"}, "y": {"datum": 0.17, "type": "quantitative"}, "text": {"field": "label"}}
  }
 ]
},
{
 "width": 1312, "height": 221,
 "layer": [
  {
   "transform": [{"filter": "datum.g === 'G3'"}],
   "encoding": {
    "x": {"field": "t", "type": "quantitative", "scale": {"domain": [0, 16], "nice": false}, "axis": {"values": [0,2,4,6,8,10,12,14,16], "format": "d", "title": "time [s]", "titleX": 632, "titleY": 68, "titleBaseline": "alphabetic", "titleAlign": "center"}},
    "y": {"field": "v", "type": "quantitative", "scale": {"domain": [-0.034, 0.235], "nice": false, "zero": false}, "axis": {"values": [0, 0.1, 0.2], "format": ".1f", "title": null}},
    "color": {"field": "series", "type": "nominal", "scale": {"domain": ["SW (2m)", "SW (4m)", "SW (6m)", "experimental", "PFEM"], "range": ["#1f77b4", "#ff7f0e", "#2ca02c", "#d62728", "#9467bd"]}, "legend": null},
    "strokeDash": {"field": "series", "type": "nominal", "scale": {"domain": ["SW (2m)", "SW (4m)", "SW (6m)", "experimental", "PFEM"], "range": [[1, 0], [1, 0], [1, 0], [3.6, 5.9], [13.3, 5.8]]}, "legend": null}
   },
   "layer": [
    {"transform": [{"filter": "datum.series === 'SW (2m)'"}], "mark": {"type": "line"}},
    {"transform": [{"filter": "datum.series === 'SW (4m)'"}], "mark": {"type": "line"}},
    {"transform": [{"filter": "datum.series === 'SW (6m)'"}], "mark": {"type": "line"}},
    {"transform": [{"filter": "datum.series === 'experimental'"}], "mark": {"type": "line"}}
   ]
  },
  {
   "data": {"values": [{"label": "G3 (32.5m)"}]},
   "mark": {"type": "text", "align": "left", "baseline": "alphabetic", "fontSize": 24, "color": "black"},
   "encoding": {"x": {"datum": 0.32, "type": "quantitative"}, "y": {"datum": 0.182, "type": "quantitative"}, "text": {"field": "label"}}
  }
 ]
}
],
"config": {
 "font": "DejaVu Sans",
 "view": {"stroke": "black", "strokeWidth": 1.9},
 "axis": {"grid": false, "domain": false, "tickColor": "black", "tickWidth": 1.9, "tickSize": 8.4, "labelFontSize": 24, "labelColor": "black", "labelFont": "DejaVu Sans", "labelPadding": 9, "titleFontSize": 24, "titleFontWeight": "normal", "titleColor": "black", "titleFont": "DejaVu Sans"},
 "axisX": {"labelPadding": 8.5},
 "legend": {"labelFontSize": 24, "labelFont": "DejaVu Sans", "labelColor": "black", "symbolType": "stroke", "symbolStrokeWidth": 3.6, "symbolSize": 3025, "clipHeight": 28, "rowPadding": 8.5, "padding": 8, "offset": 12, "labelOffset": 16, "fillColor": "rgba(255,255,255,0.8)", "strokeColor": "#cccccc", "strokeWidth": 1.9, "cornerRadius": 5, "labelLimit": 400},
 "line": {"strokeWidth": 3.6, "interpolate": "monotone", "clip": true}
}
}
